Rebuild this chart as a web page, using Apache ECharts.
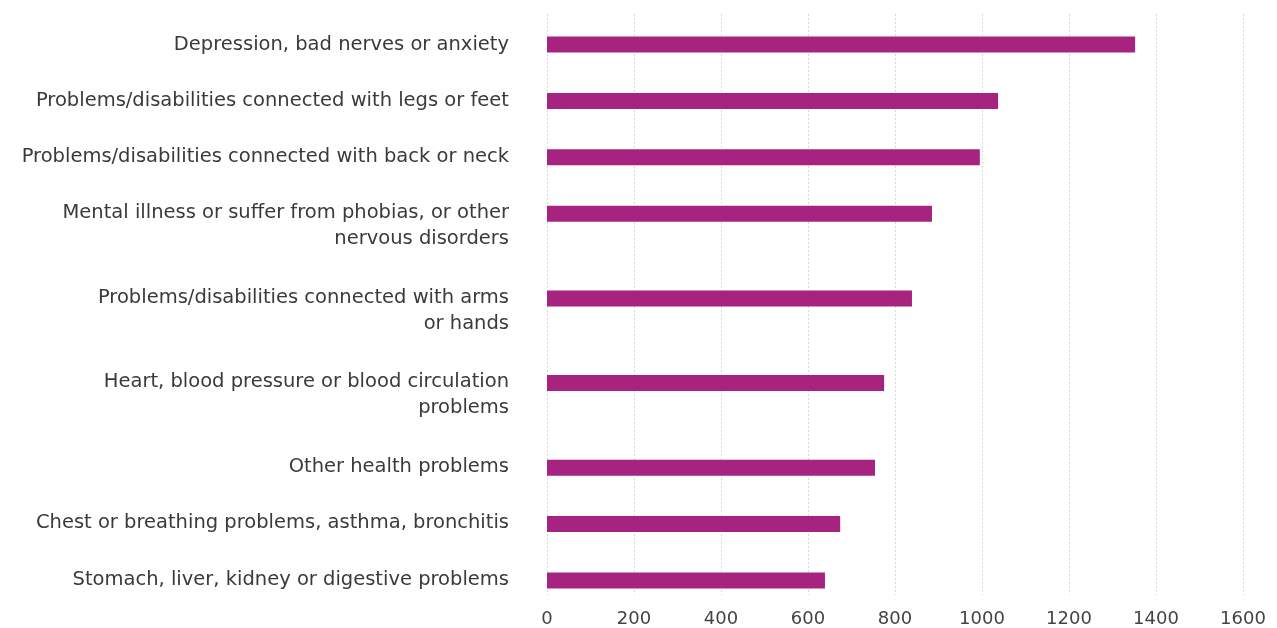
<!DOCTYPE html>
<html>
<head>
<meta charset="utf-8">
<script src="https://cdn.jsdelivr.net/npm/echarts@6/dist/echarts.min.js"></script>
<style>
html,body{margin:0;padding:0;background:#fff;}
#chart{width:1277px;height:628px;}
</style>
</head>
<body>
<div id="chart"></div>
<script>
// Data
var categories = [
  "Depression, bad nerves or anxiety",
  "Problems/disabilities connected with legs or feet",
  "Problems/disabilities connected with back or neck",
  "Mental illness or suffer from phobias, or other\nnervous disorders",
  "Problems/disabilities connected with arms\nor hands",
  "Heart, blood pressure or blood circulation\nproblems",
  "Other health problems",
  "Chest or breathing problems, asthma, bronchitis",
  "Stomach, liver, kidney or digestive problems"
];
var values = [1352, 1037, 995, 885, 839, 775, 754, 674, 639];
var xTicks = [0, 200, 400, 600, 800, 1000, 1200, 1400, 1600];

// Layout: one-line rows take 2 slots, two-line rows take 3 slots
var SLOT_PX = 28.21, LINE_H = 26, FONT = 'DejaVu Sans';
var positions = [], labelPos = [], labelMap = {};
var p = 0;
categories.forEach(function (c, i) {
  if (i > 0) p += categories[i - 1].split("\n").length > 1 ? 3 : 2;
  positions.push(p);
  var lp = p + (c.split("\n").length - 1) * 0.5 * LINE_H / SLOT_PX;
  labelPos.push(lp);
  labelMap[lp.toFixed(4)] = c;
});
var nSlots = positions[positions.length - 1] + 1;
var slotNames = [], slotData = [];
for (var k = 0; k < nSlots; k++) { slotNames.push('s' + k); slotData.push('-'); }
positions.forEach(function (pos, i) { slotData[pos] = values[i]; });

var TOP0 = 44.5;
var chart = echarts.init(document.getElementById('chart'));
chart.setOption({
  animation: false,
  grid: [
    { left: 547, right: 34, top: 14, bottom: 32 },
    { left: 547, right: 34, top: TOP0 - SLOT_PX / 2, bottom: 628 - (TOP0 + (nSlots - 0.5) * SLOT_PX) }
  ],
  xAxis: [{
    gridIndex: 0, type: 'value', min: 0, max: 1600, interval: 200,
    axisLine: { show: false }, axisTick: { show: false },
    splitLine: { show: true, lineStyle: { color: '#d9d9d9', type: [2, 2], width: 1 } },
    axisLabel: { color: '#444', fontSize: 18, fontFamily: FONT, margin: 15,
      formatter: function (v) { return String(v); } }
  }, {
    gridIndex: 1, type: 'value', min: 0, max: 1600, show: false
  }],
  yAxis: [{
    gridIndex: 0, type: 'value', inverse: true,
    min: (14 - TOP0) / SLOT_PX, max: (14 - TOP0) / SLOT_PX + 582 / SLOT_PX,
    axisLine: { show: false }, axisTick: { show: false }, splitLine: { show: false },
    axisLabel: {
      customValues: labelPos,
      color: '#3a3a3a', fontSize: 19.5, fontFamily: FONT, lineHeight: LINE_H,
      margin: 38, align: 'right',
      formatter: function (v) { return labelMap[Number(v).toFixed(4)] || ''; }
    }
  }, {
    gridIndex: 1, type: 'category', inverse: true, data: slotNames, show: false
  }],
  series: [{
    type: 'bar', xAxisIndex: 1, yAxisIndex: 1,
    barWidth: 16,
    itemStyle: { color: '#a6237f' },
    data: slotData
  }]
});
</script>
</body>
</html>
